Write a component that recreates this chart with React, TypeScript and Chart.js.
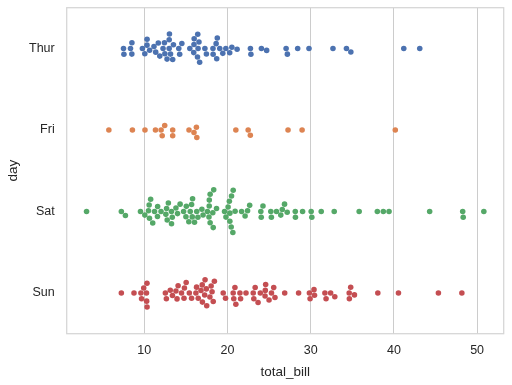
import React, { useEffect, useRef } from "react";
import { Chart, registerables } from "chart.js";

Chart.register(...registerables);

const categories = ["Thur", "Fri", "Sat", "Sun"];

const thurBills = [
  27.2, 22.76, 17.29, 19.44, 16.66, 10.07, 32.68, 15.98, 34.83, 13.03, 18.28, 24.71, 21.16,
  10.65, 12.43, 24.08, 11.69, 13.42, 14.26, 15.95, 12.48, 29.8, 8.52, 14.52, 11.38, 22.82,
  19.08, 20.27, 11.17, 12.26, 18.26, 8.51, 10.33, 14.15, 16.0, 13.16, 17.47, 34.3, 41.19,
  27.05, 16.43, 8.35, 18.64, 11.87, 9.78, 7.51, 19.81, 28.44, 15.48, 16.58, 7.56, 10.34,
  43.11, 13.0, 13.51, 18.71, 12.74, 13.0, 16.4, 20.53, 16.47, 18.78,
];

const friBills = [
  28.97, 22.49, 5.75, 16.32, 22.75, 40.17, 27.28, 12.03, 21.01, 12.46, 11.35, 15.38, 12.16,
  13.42, 8.58, 15.98, 13.42, 16.27, 10.09,
];

const satBills = [
  20.65, 17.92, 20.29, 15.77, 39.42, 19.82, 17.81, 13.37, 12.69, 21.7, 19.65, 9.55, 18.35,
  15.06, 20.69, 17.78, 24.06, 16.31, 16.93, 18.69, 31.27, 16.04, 38.01, 26.41, 11.24, 48.27,
  20.29, 13.81, 11.02, 18.29, 17.59, 20.08, 16.45, 3.07, 20.23, 15.01, 12.02, 17.07, 26.86,
  25.28, 14.73, 10.51, 17.92, 44.3, 22.42, 20.92, 15.36, 20.49, 25.21, 18.24, 14.31, 14.0,
  7.25, 10.59, 10.63, 50.81, 15.81, 26.59, 38.73, 24.27, 12.76, 30.06, 25.89, 48.33, 13.27,
  28.17, 12.9, 28.15, 11.59, 7.74, 30.14, 20.45, 13.28, 22.12, 24.01, 15.69, 11.61, 10.77,
  15.53, 10.07, 12.6, 32.83, 35.83, 29.03, 27.18, 22.67, 17.82,
];

const sunBills = [
  16.99, 10.34, 21.01, 23.68, 24.59, 25.29, 8.77, 26.88, 15.04, 14.78, 10.27, 35.26, 15.42,
  18.43, 14.83, 21.58, 10.33, 16.29, 16.97, 17.46, 13.94, 9.68, 30.4, 18.29, 22.23, 32.4,
  28.55, 18.04, 12.54, 10.29, 34.81, 9.94, 25.56, 19.49, 38.07, 23.95, 25.71, 17.31, 29.93,
  14.07, 13.13, 17.26, 24.55, 19.77, 29.85, 48.17, 25.0, 13.39, 16.49, 21.5, 12.66, 16.21,
  13.81, 17.51, 24.52, 20.76, 31.71, 7.25, 31.85, 16.82, 32.9, 17.89, 14.48, 9.6, 34.63,
  34.65, 23.33, 45.35, 23.17, 40.55, 20.69, 20.9, 30.46, 18.15, 23.1, 15.69,
];

const seriesByDay = [thurBills, friBills, satBills, sunBills];
const dayColors = ["#4c72b0", "#dd8452", "#55a868", "#c44e52"];
const xTickValues = [10, 20, 30, 40, 50];
const X_MIN = 0.683;
const X_MAX = 53.197;

const TEXT = "#262626";
const FONT = "'Liberation Sans', Arial, sans-serif";
const DOT_R = 2.78;

type SwarmPt = { s: number; v: number; r: number };

// seaborn-style beeswarm in pixel space; returns canvas-y for each value
function beeswarm(valsPx: number[], centerPx: number, r: number): number[] {
  const n = valsPx.length;
  const idx = valsPx.map((_, i) => i).sort((a, b) => valsPx[a] - valsPx[b] || a - b);
  const mid = -centerPx; // display coords increase upward
  const swarm: SwarmPt[] = [];
  const out: number[] = new Array(n);
  for (const k of idx) {
    const vi = valsPx[k];
    let pos = mid;
    if (swarm.length) {
      const neighbors: SwarmPt[] = [];
      for (let j = swarm.length - 1; j >= 0; j--) {
        if (vi - swarm[j].v < r + swarm[j].r) neighbors.push(swarm[j]);
        else break;
      }
      if (neighbors.length) {
        const cands = [mid];
        let leftFirst = true;
        for (const nb of neighbors) {
          const dy = vi - nb.v;
          const dx = Math.sqrt(Math.max((r + nb.r) ** 2 - dy * dy, 0)) * 1.05;
          const cl = nb.s - dx;
          const cr = nb.s + dx;
          if (leftFirst) cands.push(cl, cr);
          else cands.push(cr, cl);
          leftFirst = !leftFirst;
        }
        const order = cands
          .map((_, i) => i)
          .sort((a, b) => Math.abs(cands[a] - mid) - Math.abs(cands[b] - mid) || a - b);
        for (const oi of order) {
          const c = cands[oi];
          let ok = true;
          for (const nb of neighbors) {
            const ddx = nb.s - c;
            const ddy = nb.v - vi;
            if (ddx * ddx + ddy * ddy < (nb.r + r) ** 2) {
              ok = false;
              break;
            }
          }
          if (ok) {
            pos = c;
            break;
          }
        }
      }
    }
    swarm.push({ s: pos, v: vi, r });
    out[k] = -pos;
  }
  return out;
}

const framePlugin = {
  id: "frame",
  afterDatasetsDraw(chart: any) {
    const { ctx, chartArea } = chart;
    ctx.save();
    ctx.strokeStyle = "#d5d5d5";
    ctx.lineWidth = 1.25;
    ctx.strokeRect(
      chartArea.left,
      chartArea.top,
      chartArea.right - chartArea.left,
      chartArea.bottom - chartArea.top
    );
    ctx.restore();
  },
};

export default function App() {
  const ref = useRef<HTMLCanvasElement | null>(null);

  useEffect(() => {
    document.body.style.margin = "0";
    const canvas = ref.current;
    if (!canvas) return;
    const chart = new Chart(canvas, {
      type: "scatter",
      data: {
        datasets: seriesByDay.map((vals, i) => ({
          label: categories[i],
          data: vals.map((v) => ({ x: v, y: i })),
          backgroundColor: dayColors[i],
          borderWidth: 0,
          pointRadius: DOT_R,
          pointHoverRadius: DOT_R,
        })),
      },
      options: {
        animation: false,
        responsive: false,
        events: [],
        layout: { padding: { left: 0, top: 7.7, right: 8.3, bottom: 0 } },
        plugins: { legend: { display: false }, tooltip: { enabled: false } },
        scales: {
          x: {
            type: "linear",
            min: X_MIN,
            max: X_MAX,
            afterBuildTicks: (s: any) => {
              s.ticks = xTickValues.map((v) => ({ value: v }));
            },
            afterFit: (s: any) => {
              s.height = 51.3;
              s.paddingLeft = 0;
              s.paddingRight = 0;
            },
            grid: { color: "#cccccc", lineWidth: 1, drawTicks: false },
            border: { display: false },
            ticks: {
              color: TEXT,
              font: { family: FONT, size: 12.5 },
              padding: 9,
              maxRotation: 0,
              autoSkip: false,
            },
            title: {
              display: true,
              text: "total_bill",
              color: TEXT,
              font: { family: FONT, size: 13.5 },
              padding: { top: 0, bottom: 5 },
            },
          },
          y: {
            type: "linear",
            min: -0.5,
            max: 3.5,
            reverse: true,
            afterBuildTicks: (s: any) => {
              s.ticks = categories.map((_, i) => ({ value: i }));
            },
            afterFit: (s: any) => {
              s.width = 66.7;
              s.paddingTop = 0;
              s.paddingBottom = 0;
            },
            grid: { display: false, drawTicks: false },
            border: { display: false },
            ticks: {
              color: TEXT,
              font: { family: FONT, size: 12.5 },
              padding: 12,
              autoSkip: false,
              callback: (v: any) => categories[Number(v)] ?? "",
            },
            title: {
              display: true,
              text: "day",
              color: TEXT,
              font: { family: FONT, size: 13.5 },
              padding: { top: 5.6, bottom: 0 },
            },
          },
        },
      },
      plugins: [framePlugin],
    });

    // swarm layout using the chart's own scales
    const xs: any = chart.scales.x;
    const ys: any = chart.scales.y;
    seriesByDay.forEach((vals, i) => {
      const px = vals.map((v) => xs.getPixelForValue(v));
      const cy = ys.getPixelForValue(i);
      const newY = beeswarm(px, cy, DOT_R);
      const ds: any = chart.data.datasets[i];
      ds.data = vals.map((v, k) => {
        let y = ys.getValueForPixel(newY[k]);
        y = Math.min(i + 0.4, Math.max(i - 0.4, y));
        return { x: v, y };
      });
    });
    chart.update();

    return () => chart.destroy();
  }, []);

  return (
    <div style={{ position: "absolute", left: 0, top: 0, width: 512, height: 385 }}>
      <canvas ref={ref} width={512} height={385} style={{ width: 512, height: 385 }} />
    </div>
  );
}
